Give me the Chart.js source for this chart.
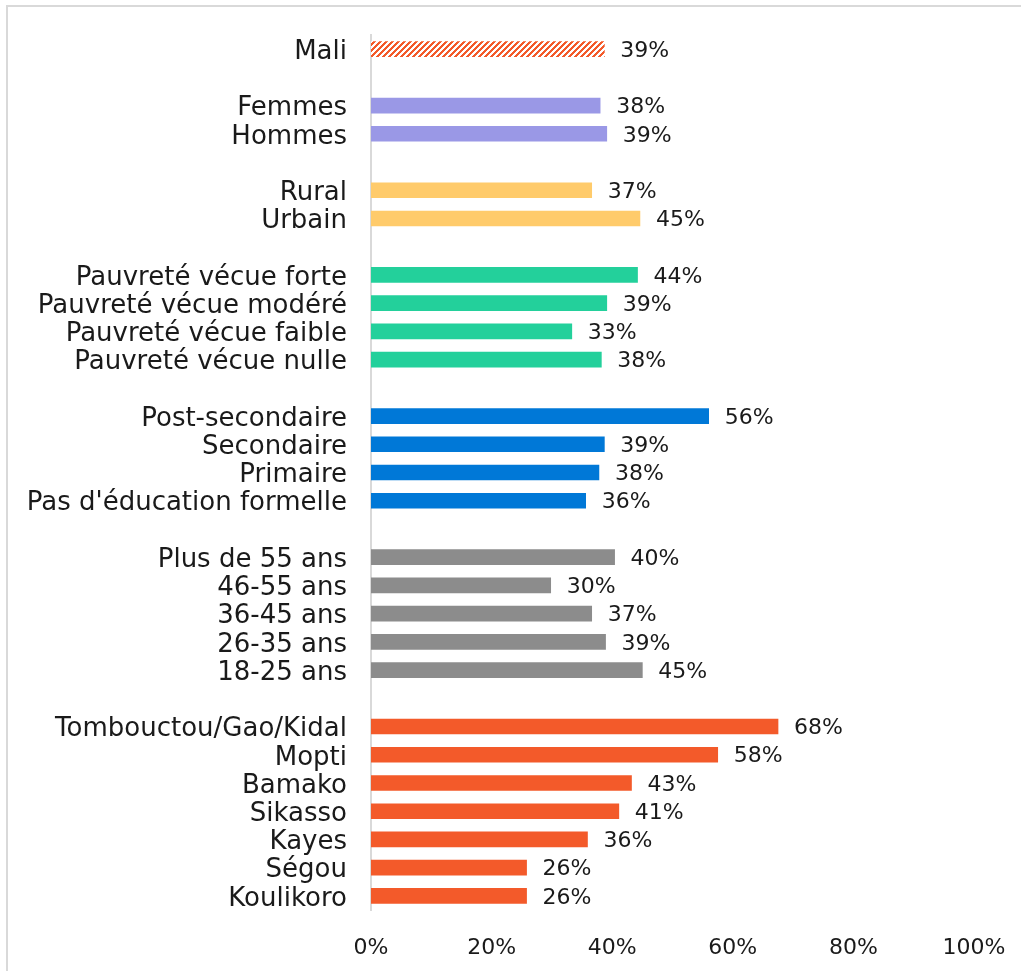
<!DOCTYPE html>
<html>
<head>
<meta charset="utf-8">
<script src="https://cdn.jsdelivr.net/npm/chart.js@4.4.1/dist/chart.umd.min.js"></script>
<style>
  html, body { margin: 0; padding: 0; background: #ffffff; }
  canvas { display: block; }
</style>
</head>
<body>
<canvas id="c" width="1021" height="971"></canvas>
<script>
// ---- Data ----
const maliLabels = ['Mali'];
const maliValues = [38.7];

const genreLabels = ['Femmes', 'Hommes'];
const genreValues = [38.0, 39.1];

const milieuLabels = ['Rural', 'Urbain'];
const milieuValues = [36.6, 44.6];

const pauvreteLabels = ['Pauvreté vécue forte', 'Pauvreté vécue modéré', 'Pauvreté vécue faible', 'Pauvreté vécue nulle'];
const pauvreteValues = [44.2, 39.1, 33.3, 38.2];

const educationLabels = ['Post-secondaire', 'Secondaire', 'Primaire', "Pas d'éducation formelle"];
const educationValues = [56.0, 38.7, 37.8, 35.6];

const ageLabels = ['Plus de 55 ans', '46-55 ans', '36-45 ans', '26-35 ans', '18-25 ans'];
const ageValues = [40.4, 29.8, 36.6, 38.9, 45.0];

const regionLabels = ['Tombouctou/Gao/Kidal', 'Mopti', 'Bamako', 'Sikasso', 'Kayes', 'Ségou', 'Koulikoro'];
const regionValues = [67.5, 57.5, 43.2, 41.1, 35.9, 25.8, 25.8];

const xTickValues = [0, 20, 40, 60, 80, 100];

// ---- Styles ----
const ORANGE = '#F35A2A';
function makeStripePattern() {
  const p = document.createElement('canvas');
  p.width = 6; p.height = 6;
  const g = p.getContext('2d');
  g.fillStyle = '#ffffff';
  g.fillRect(0, 0, 6, 6);
  g.fillStyle = ORANGE;
  for (let x = 0; x < 6; x++) {
    for (let y = 0; y < 6; y++) {
      if (((x + y) % 6) < 3) g.fillRect(x, y, 1, 1);
    }
  }
  return document.getElementById('c').getContext('2d').createPattern(p, 'repeat');
}
const groupColors = [makeStripePattern(), '#9A98E6', '#FFCB6B', '#23D09B', '#0078D7', '#8C8C8C', ORANGE];

// ---- Build chart arrays ----
const groups = [
  [maliLabels, maliValues],
  [genreLabels, genreValues],
  [milieuLabels, milieuValues],
  [pauvreteLabels, pauvreteValues],
  [educationLabels, educationValues],
  [ageLabels, ageValues],
  [regionLabels, regionValues]
];
const labels = [], data = [], colors = [];
groups.forEach((g, gi) => {
  if (gi > 0) { labels.push(''); data.push(null); colors.push('rgba(0,0,0,0)'); }
  g[0].forEach((l, i) => { labels.push(l); data.push(g[1][i]); colors.push(groupColors[gi]); });
});

function zeroPad(scale) {
  scale.paddingTop = 0; scale.paddingBottom = 0;
  scale.paddingLeft = 0; scale.paddingRight = 0;
}

const frame = {
  id: 'frame',
  beforeDraw(chart) {
    const ctx = chart.ctx;
    ctx.save();
    ctx.fillStyle = '#ffffff';
    ctx.fillRect(0, 0, chart.width, chart.height);
    ctx.strokeStyle = '#D9D9D9';
    ctx.lineWidth = 2;
    ctx.strokeRect(7, 6, 1100, 1100);
    ctx.restore();
  }
};

const valueLabels = {
  id: 'valueLabels',
  afterDatasetsDraw(chart) {
    const ctx = chart.ctx;
    const meta = chart.getDatasetMeta(0);
    ctx.save();
    ctx.font = '22px "DejaVu Sans"';
    ctx.fillStyle = '#1a1a1a';
    ctx.textAlign = 'left';
    ctx.textBaseline = 'middle';
    meta.data.forEach((el, i) => {
      const v = chart.data.datasets[0].data[i];
      if (v === null || v === undefined) return;
      ctx.fillText(Math.round(v) + '%', el.x + 16, el.y + 2);
    });
    ctx.restore();
  }
};

new Chart(document.getElementById('c'), {
  type: 'bar',
  data: {
    labels: labels,
    datasets: [{
      data: data,
      backgroundColor: colors,
      borderWidth: 0,
      barThickness: 15
    }]
  },
  options: {
    indexAxis: 'y',
    responsive: false,
    animation: false,
    events: [],
    layout: { padding: { top: 35, right: 47, left: 0, bottom: 0 } },
    plugins: { legend: { display: false }, tooltip: { enabled: false } },
    scales: {
      x: {
        min: 0, max: 100,
        afterBuildTicks(scale) { scale.ticks = xTickValues.map(v => ({ value: v })); },
        afterFit(scale) { scale.height = 61; zeroPad(scale); },
        grid: { display: false, drawTicks: false },
        border: { display: false },
        ticks: {
          padding: 25,
          color: '#1a1a1a',
          font: { family: 'DejaVu Sans', size: 22 },
          callback: v => v + '%',
          maxRotation: 0
        }
      },
      y: {
        afterFit(scale) { scale.width = 371; zeroPad(scale); },
        grid: { display: false, drawTicks: false },
        border: { display: true, color: '#D9D9D9', width: 2 },
        ticks: {
          padding: 24,
          labelOffset: 3,
          color: '#1a1a1a',
          autoSkip: false,
          font: { family: 'DejaVu Sans', size: 26 }
        }
      }
    }
  },
  plugins: [frame, valueLabels]
});
</script>
</body>
</html>
